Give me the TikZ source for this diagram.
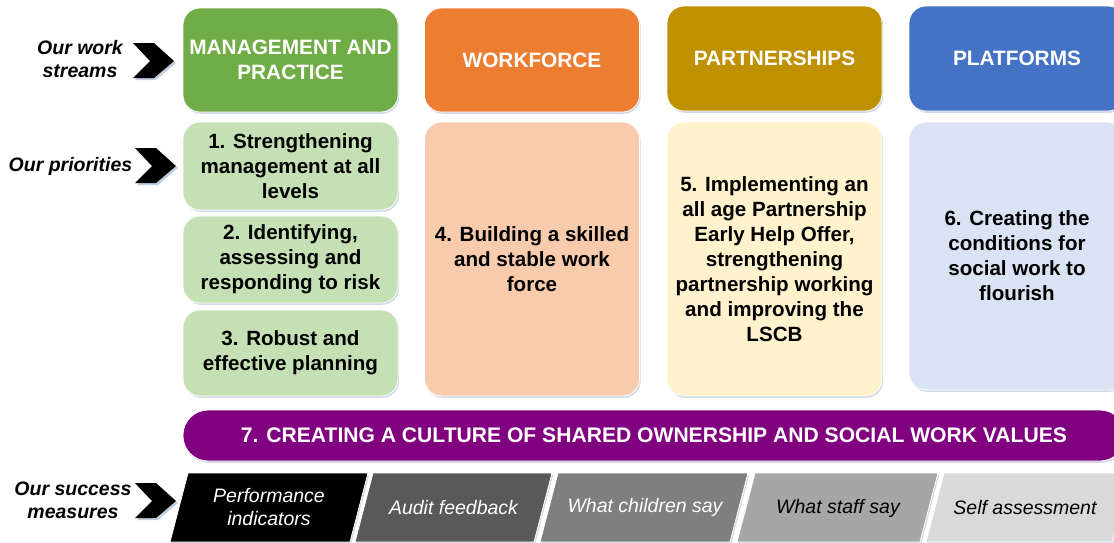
\documentclass[tikz,border=0pt]{standalone}
\usepackage{fontspec}
\setmainfont{Liberation Sans}
\usetikzlibrary{shadows}
\definecolor{cgreen}{HTML}{70AD47}
\definecolor{corange}{HTML}{ED7D31}
\definecolor{cgold}{HTML}{BF9000}
\definecolor{cblue}{HTML}{4472C4}
\definecolor{lgreen}{HTML}{C5E0B4}
\definecolor{lorange}{HTML}{F8CBAD}
\definecolor{lyellow}{HTML}{FFF2CC}
\definecolor{lblue}{HTML}{DAE3F3}
\definecolor{cpurple}{HTML}{800080}
\definecolor{g1}{HTML}{595959}
\definecolor{g2}{HTML}{7F7F7F}
\definecolor{g3}{HTML}{A6A6A6}
\definecolor{g4}{HTML}{D9D9D9}
\definecolor{shcol}{HTML}{AFC0D8}
\begin{document}
\begin{tikzpicture}[x=1pt,y=-1pt,
  sh/.style={drop shadow={shadow xshift=1.2pt,shadow yshift=-1.8pt,fill=shcol,opacity=0.6}},
  headbox/.style={rounded corners=17pt, draw=white, line width=0.8pt, sh, text=white,
     font=\bfseries\fontsize{20.8}{25}\selectfont, align=center, minimum width=215pt},
  prbox/.style={rounded corners=17pt, draw=white, line width=0.8pt, sh, text=black,
     font=\bfseries\fontsize{20.6}{25}\selectfont, align=center, minimum width=215pt},
  side/.style={font=\bfseries\itshape\fontsize{19.5}{23}\selectfont, align=center, inner sep=0pt},
  meas/.style={font=\itshape\fontsize{19.5}{23}\selectfont, align=center, inner sep=0pt},
  chev/.style={fill=black},
  chevsh/.style={fill=shcol, opacity=0.8},
  para/.style={draw=white, line width=0.8pt, sh}
]
\useasboundingbox (0,0) rectangle (1114,542);
\clip (0,0) rectangle (1114,542);

% work stream headers
\node[headbox, fill=cgreen, minimum height=104pt] (ws1) at (290.5,60) {MANAGEMENT AND\\PRACTICE};
\node[headbox, fill=corange, minimum height=104pt] (ws2) at (532,60) {WORKFORCE};
\node[headbox, fill=cgold, minimum height=105pt] (ws3) at (774.5,58.5) {PARTNERSHIPS};
\node[headbox, fill=cblue, minimum height=105pt, minimum width=216pt] (ws4) at (1017,58.5) {PLATFORMS};

% priorities
\node[prbox, fill=lgreen, minimum height=88pt] (p1) at (290.5,166) {1. Strengthening\\management at all\\levels};
\node[prbox, fill=lgreen, minimum height=87pt] (p2) at (290.5,259.5) {2. Identifying,\\assessing and\\responding to risk};
\node[prbox, fill=lgreen, minimum height=86pt] (p3) at (290.5,353) {3. Robust and\\effective planning};
\node[prbox, fill=lorange, minimum height=274pt] (p4) at (532,259) {4. Building a skilled\\and stable work\\force};
\node[prbox, fill=lyellow, minimum height=274pt] (p5) at (774.5,259) {5. Implementing an\\all age Partnership\\Early Help Offer,\\strengthening\\partnership working\\and improving the\\LSCB};
\node[prbox, fill=lblue, minimum height=268pt, minimum width=216pt] (p6) at (1017,256) {6. Creating the\\conditions for\\social work to\\flourish};

% purple bar
\node[rounded corners=25pt, draw=white, line width=0.8pt, sh, fill=cpurple, text=white,
  font=\bfseries\fontsize{21.1}{25}\selectfont, minimum width=942pt, minimum height=51pt]
  (p7) at (654,435.5) {7. CREATING A CULTURE OF SHARED OWNERSHIP AND SOCIAL WORK VALUES};

% success measure parallelograms
\path[para, fill=black] (188,473) -- (368,473) -- (350,542) -- (170,542) -- cycle;
\path[para, fill=g1] (373,473) -- (552,473) -- (534,542) -- (355,542) -- cycle;
\path[para, fill=g2] (558,473) -- (748,473) -- (730,542) -- (540,542) -- cycle;
\path[para, fill=g3] (755,473) -- (938,473) -- (920,542) -- (737,542) -- cycle;
\path[para, fill=g4] (944,473) -- (1130,473) -- (1112,542) -- (926,542) -- cycle;

\node[meas, text=white] (m1) at (269,507.5) {Performance\\indicators};
\node[meas, text=white] (m2) at (453.5,508) {Audit feedback};
\node[meas, text=white] (m3) at (645,507) {What children say};
\node[meas, text=black] (m4) at (838,508) {What staff say};
\node[meas, text=black] (m5) at (1025,508) {Self assessment};

% side labels
\node[side] (l1) at (80,59.5) {Our work\\streams};
\node[side] (l2) at (70.5,166) {Our priorities};
\node[side] (l3) at (73,500.5) {Our success\\measures};

% chevrons
\foreach \xo/\yo in {133/43, 135/148, 135/483}{
  \fill[chevsh] (\xo+2,\yo+2) -- ++(21,0) -- ++(20,18) -- ++(-20,17) -- ++(-21,0) -- ++(17,-17) -- cycle;
  \fill[chev] (\xo,\yo) -- ++(21,0) -- ++(20,18) -- ++(-20,17) -- ++(-21,0) -- ++(17,-17) -- cycle;
}
\end{tikzpicture}
\end{document}
